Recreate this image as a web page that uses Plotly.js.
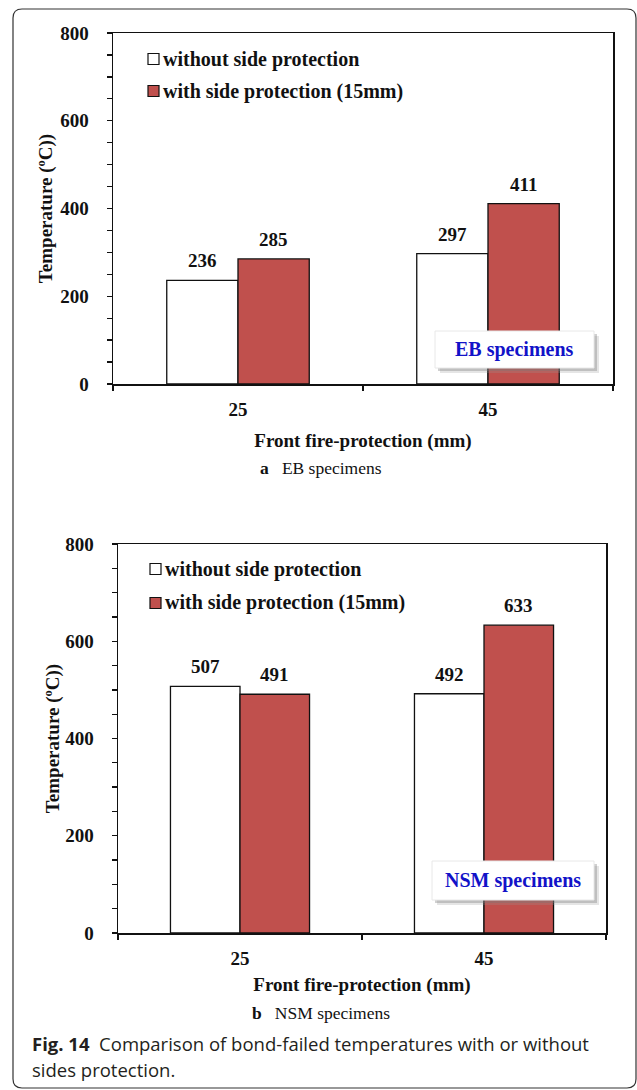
<!DOCTYPE html>
<html>
<head>
<meta charset="utf-8">
<script src="https://cdn.plot.ly/plotly-3.0.1.min.js"></script>
<style>
  html, body { margin: 0; padding: 0; background: #ffffff; }
  #chart { width: 637px; height: 1090px; }
</style>
</head>
<body>
<div id="chart"></div>
<script>
// Bond-failed temperatures (°C) by front fire-protection thickness
const thickness = ['25', '45'];
const seriesNames = ['without side protection', 'with side protection (15mm)'];
const ebWithout = [236, 297];
const ebWith = [285, 411];
const nsmWithout = [507, 492];
const nsmWith = [491, 633];
const yTicks = [0, 200, 400, 600, 800];

const W = 637, H = 1090;
const px = x => x / W;
const py = y => 1 - y / H;

const SERIF = '"Times New Roman", "Liberation Serif", serif';
const SANS = '"Open Sans", "Noto Sans", sans-serif';
const RED = '#c0504d';
const INK = '#111111';
const BARGAP = 0.43;

// Plot-area boxes (pixels) for the two panels
const panelA = { l: 113, r: 613, t: 33, b: 384 };
const panelB = { l: 118, r: 606, t: 544, b: 933 };

function bars(vals, name, color, xa, ya) {
  return {
    type: 'bar', x: thickness, y: vals, name: name,
    xaxis: xa, yaxis: ya, showlegend: false,
    marker: { color: color, line: { color: INK, width: 1.3 } },
    hoverinfo: 'x+y+name'
  };
}

const data = [
  bars(ebWithout, seriesNames[0], '#ffffff', 'x', 'y'),
  bars(ebWith, seriesNames[1], RED, 'x', 'y'),
  bars(nsmWithout, seriesNames[0], '#ffffff', 'x2', 'y2'),
  bars(nsmWith, seriesNames[1], RED, 'x2', 'y2')
];

const tickFont = { family: SERIF, size: 19, weight: 'bold', color: INK };
const titleFont = { family: SERIF, size: 19, weight: 'bold', color: INK };
const xRange = [-0.5, thickness.length - 0.5];

function xAxis(p, anchor, standoff) {
  return {
    domain: [px(p.l), px(p.r)], anchor: anchor, type: 'category', range: xRange,
    tickson: 'boundaries', ticks: 'outside', ticklen: 5, tickwidth: 1.3, tickcolor: INK,
    showline: true, linecolor: INK, linewidth: 1.5, mirror: true,
    showgrid: false, zeroline: false, fixedrange: true,
    tickfont: tickFont, ticklabelstandoff: 8,
    title: { text: 'Front fire-protection (mm)', font: titleFont, standoff: standoff }
  };
}
function yAxis(p, anchor, standoff) {
  return {
    domain: [py(p.b), py(p.t)], anchor: anchor, range: [0, 800],
    tickvals: yTicks, ticks: 'outside', ticklen: 5, tickwidth: 1.3, tickcolor: INK,
    minor: { dtick: 50, ticks: 'outside', ticklen: 5, tickwidth: 1.3, tickcolor: INK, showgrid: false },
    showline: true, linecolor: INK, linewidth: 1.5, mirror: true,
    showgrid: false, zeroline: false, fixedrange: true,
    tickfont: tickFont, ticklabelstandoff: 14,
    title: { text: 'Temperature (ºC))', font: titleFont, standoff: standoff }
  };
}
// Inner halves of the major ticks, so they cross the axis lines
function xCross(p, over, anchor) {
  return {
    domain: [px(p.l), px(p.r)], overlaying: over, anchor: anchor, type: 'linear',
    range: xRange,
    tickvals: thickness.map((_, i) => i - 0.5).concat([thickness.length - 0.5]),
    ticks: 'inside', ticklen: 5, tickwidth: 1.3, tickcolor: INK,
    showticklabels: false, showline: false, showgrid: false, zeroline: false, fixedrange: true
  };
}
function yCross(p, over, anchor) {
  return {
    domain: [py(p.b), py(p.t)], overlaying: over, anchor: anchor, range: [0, 800],
    tickvals: yTicks, ticks: 'inside', ticklen: 5, tickwidth: 1.3, tickcolor: INK,
    showticklabels: false, showline: false, showgrid: false, zeroline: false, fixedrange: true
  };
}

// Rounded outer frame of the figure
function roundedFrame(x0, y0, x1, y1, r) {
  const P = (x, y) => px(x) + ',' + py(y);
  return 'M' + P(x0 + r, y0) + ' L' + P(x1 - r, y0) + ' Q' + P(x1, y0) + ' ' + P(x1, y0 + r) +
    ' L' + P(x1, y1 - r) + ' Q' + P(x1, y1) + ' ' + P(x1 - r, y1) +
    ' L' + P(x0 + r, y1) + ' Q' + P(x0, y1) + ' ' + P(x0, y1 - r) +
    ' L' + P(x0, y0 + r) + ' Q' + P(x0, y0) + ' ' + P(x0 + r, y0) + ' Z';
}

const shapes = [
  { type: 'path', xref: 'paper', yref: 'paper', path: roundedFrame(13, 9, 636, 1088, 9),
    line: { color: '#333333', width: 1.2 }, fillcolor: 'rgba(0,0,0,0)', layer: 'below' }
];
const annotations = [];

// Value labels above each bar (x given as category index)
function valueLabels(vals, side, p, xref, yref) {
  const barPx = (p.r - p.l) / thickness.length * (1 - BARGAP) / 2;
  vals.forEach((v, i) => {
    annotations.push({ xref: xref, yref: yref, x: i, y: v, xshift: side * barPx / 2,
      yshift: 7, xanchor: 'center', yanchor: 'bottom', text: String(v), showarrow: false,
      font: { family: SERIF, size: 19, weight: 'bold', color: INK } });
  });
}
valueLabels(ebWithout, -1, panelA, 'x', 'y');
valueLabels(ebWith, 1, panelA, 'x', 'y');
valueLabels(nsmWithout, -1, panelB, 'x2', 'y2');
valueLabels(nsmWith, 1, panelB, 'x2', 'y2');

// Legend swatches with their labels
function legendBlock(x, y1, y2) {
  shapes.push({ type: 'rect', xref: 'paper', yref: 'paper', layer: 'above',
    x0: px(x), x1: px(x + 11), y0: py(y1 + 5.5), y1: py(y1 - 5.5),
    fillcolor: '#ffffff', line: { color: INK, width: 1.2 } });
  shapes.push({ type: 'rect', xref: 'paper', yref: 'paper', layer: 'above',
    x0: px(x), x1: px(x + 11), y0: py(y2 + 5.5), y1: py(y2 - 5.5),
    fillcolor: RED, line: { color: INK, width: 1.2 } });
  [[y1, seriesNames[0]], [y2, seriesNames[1]]].forEach(([yy, t]) => {
    annotations.push({ xref: 'paper', yref: 'paper', x: px(x + 13), y: py(yy), xanchor: 'left', yanchor: 'middle',
      text: t, showarrow: false, font: { family: SERIF, size: 20, weight: 'bold', color: INK } });
  });
}
legendBlock(148, 59, 91);
legendBlock(150, 569, 603);

// "specimens" tags with a soft drop shadow
function tag(x0, x1, y0, y1, text) {
  shapes.push({ type: 'rect', xref: 'paper', yref: 'paper', layer: 'above',
    x0: px(x0 + 5), x1: px(x1 + 5), y0: py(y1 + 5), y1: py(y0 + 5),
    fillcolor: 'rgba(150,150,150,0.25)', line: { width: 0 } });
  shapes.push({ type: 'rect', xref: 'paper', yref: 'paper', layer: 'above',
    x0: px(x0 + 3), x1: px(x1 + 3), y0: py(y1 + 3), y1: py(y0 + 3),
    fillcolor: 'rgba(120,120,120,0.35)', line: { width: 0 } });
  shapes.push({ type: 'rect', xref: 'paper', yref: 'paper', layer: 'above',
    x0: px(x0), x1: px(x1), y0: py(y1), y1: py(y0),
    fillcolor: '#ffffff', line: { color: '#e8e8e8', width: 1 } });
  annotations.push({ xref: 'paper', yref: 'paper', x: px((x0 + x1) / 2), y: py((y0 + y1) / 2),
    xanchor: 'center', yanchor: 'middle', text: text, showarrow: false,
    font: { family: SERIF, size: 20, weight: 'bold', color: '#1212c8' } });
}
tag(435, 594, 331, 368, 'EB specimens');
tag(432, 594, 861, 900, 'NSM specimens');

// Panel sub-captions
annotations.push({ xref: 'paper', yref: 'paper', x: px(321), y: py(468), xanchor: 'center', yanchor: 'middle',
  text: '<b>a</b>   EB specimens', showarrow: false, font: { family: SERIF, size: 17.5, color: INK } });
annotations.push({ xref: 'paper', yref: 'paper', x: px(321), y: py(1013), xanchor: 'center', yanchor: 'middle',
  text: '<b>b</b>   NSM specimens', showarrow: false, font: { family: SERIF, size: 17.5, color: INK } });

// Figure caption
annotations.push({ xref: 'paper', yref: 'paper', x: px(30), y: py(1043), xanchor: 'left', yanchor: 'middle',
  text: '<b>Fig. 14</b>  Comparison of bond-failed temperatures with or without', showarrow: false,
  font: { family: SANS, size: 18.5, color: '#231f20' } });
annotations.push({ xref: 'paper', yref: 'paper', x: px(30), y: py(1069), xanchor: 'left', yanchor: 'middle',
  text: 'sides protection.', showarrow: false,
  font: { family: SANS, size: 18.5, color: '#231f20' } });

const layout = {
  width: W, height: H,
  margin: { l: 0, r: 0, t: 0, b: 0, pad: 0 },
  paper_bgcolor: '#ffffff', plot_bgcolor: '#ffffff',
  barmode: 'group', bargap: BARGAP, bargroupgap: 0,
  showlegend: false,
  xaxis: xAxis(panelA, 'y', 14),
  yaxis: yAxis(panelA, 'x', 2),
  xaxis2: xAxis(panelB, 'y2', 9),
  yaxis2: yAxis(panelB, 'x2', 0),
  xaxis3: xCross(panelA, 'x', 'y'),
  yaxis3: yCross(panelA, 'y', 'x'),
  xaxis4: xCross(panelB, 'x2', 'y2'),
  yaxis4: yCross(panelB, 'y2', 'x2'),
  shapes: shapes,
  annotations: annotations
};

Plotly.newPlot('chart', data, layout, { displayModeBar: false, staticPlot: true });
</script>
</body>
</html>
